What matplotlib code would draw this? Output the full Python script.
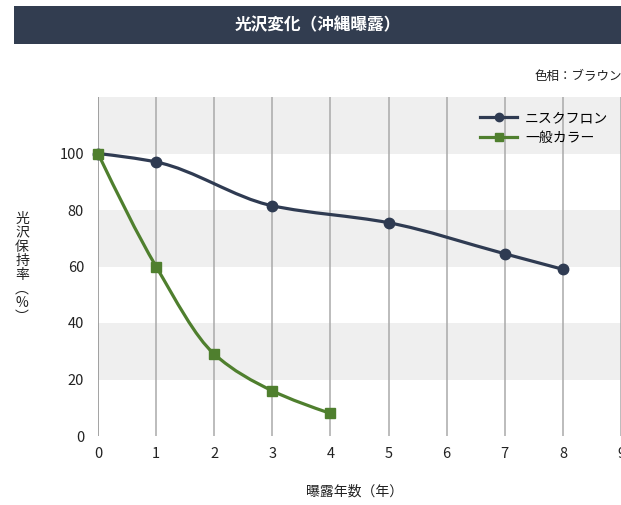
import matplotlib
matplotlib.use("Agg")
import matplotlib.pyplot as plt
from matplotlib.patches import Rectangle, PathPatch
from matplotlib.path import Path
from matplotlib.lines import Line2D
import numpy as np

plt.rcParams['font.family'] = ['Noto Sans CJK JP', 'DejaVu Sans']

title = "光沢変化（沖縄曝露）"
subtitle = "色相：ブラウン"
xlabel = "曝露年数（年）"
ylabel = "光沢保持率（%）"

series1_name = "ニスクフロン"
series1_x = [0, 1, 3, 5, 7, 8]
series1_y = [100, 97, 81.5, 75.5, 64.5, 59]

series2_name = "一般カラー"
series2_x = [0, 1, 2, 3, 4]
series2_y = [100, 60, 29, 16, 8]

xticks = list(range(0, 10))
yticks = [0, 20, 40, 60, 80, 100]

navy = "#2f3b52"
green = "#4f7f2e"

W, H = 621, 505
fig = plt.figure(figsize=(W / 100, H / 100), dpi=100)

# header banner
fig.add_artist(Rectangle((14 / W, 1 - 44 / H), (W - 14) / W, 38 / H,
                         transform=fig.transFigure, facecolor="#323d50",
                         edgecolor="none"))
fig.text(318 / W, 1 - 25 / H, title, color="white", fontsize=12,
         fontweight="bold", ha="center", va="center")
fig.text(622 / W, 1 - 76 / H, subtitle, color="#222222", fontsize=9,
         ha="right", va="center")

ax = fig.add_axes([98 / W, 1 - 436 / H, (W - 98) / W, (436 - 97) / H])
ax.set_xlim(0, 9)
ax.set_ylim(0, 120)
for s in ax.spines.values():
    s.set_visible(False)

# horizontal bands
for y0 in [100, 60, 20]:
    ax.axhspan(y0, y0 + 20, color="#efefef", zorder=0, lw=0)
# vertical grid lines
for xv in xticks:
    ax.axvline(xv, color="#a9a9a9" if xv else "#8a8a8a", lw=1.1, zorder=1)

ax.set_xticks(xticks)
ax.set_yticks(yticks)
ax.tick_params(length=0, labelsize=10.5, colors="#222222")
ax.tick_params(axis="x", pad=8)
ax.tick_params(axis="y", pad=10)
for lab in ax.get_xticklabels() + ax.get_yticklabels():
    lab.set_clip_on(False)


def smooth_path(xs, ys):
    xs = np.asarray(xs, float)
    ys = np.asarray(ys, float)
    n = len(xs)
    d = np.diff(ys) / np.diff(xs)
    m = np.empty(n)
    m[0] = d[0]
    m[-1] = d[-1]
    for i in range(1, n - 1):
        if d[i - 1] * d[i] <= 0:
            m[i] = 0.0
        else:
            w1 = 2 * (xs[i + 1] - xs[i]) + (xs[i] - xs[i - 1])
            w2 = (xs[i + 1] - xs[i]) + 2 * (xs[i] - xs[i - 1])
            m[i] = (w1 + w2) / (w1 / d[i - 1] + w2 / d[i])
    # end slopes: three-point estimate
    m[0] = (3 * d[0] - m[1]) / 2
    m[-1] = (3 * d[-1] - m[-2]) / 2
    verts = [(xs[0], ys[0])]
    codes = [Path.MOVETO]
    for i in range(n - 1):
        h = xs[i + 1] - xs[i]
        verts += [(xs[i] + h / 3, ys[i] + m[i] * h / 3),
                  (xs[i + 1] - h / 3, ys[i + 1] - m[i + 1] * h / 3),
                  (xs[i + 1], ys[i + 1])]
        codes += [Path.CURVE4] * 3
    return Path(verts, codes)


ax.add_patch(PathPatch(smooth_path(series1_x, series1_y), facecolor="none",
                       edgecolor=navy, lw=2.3, zorder=3, capstyle="round"))
ax.plot(series1_x, series1_y, ls="none", marker="o", ms=7.5, color=navy,
        zorder=4, clip_on=False)
ax.add_patch(PathPatch(smooth_path(series2_x, series2_y), facecolor="none",
                       edgecolor=green, lw=2.3, zorder=5, capstyle="round"))
ax.plot(series2_x, series2_y, ls="none", marker="s", ms=7, color=green,
        zorder=6, clip_on=False)

handles = [Line2D([], [], color=navy, lw=2.3, marker="o", ms=6),
           Line2D([], [], color=green, lw=2.3, marker="s", ms=6)]
leg = fig.legend(handles, [series1_name, series2_name],
                 loc="upper left", bbox_to_anchor=(473 / W, 1 - 104 / H),
                 frameon=False, fontsize=10, handlelength=2.7,
                 handletextpad=0.55, labelspacing=0.45, borderpad=0)

fig.text(355 / W, 1 - 492 / H, xlabel, fontsize=10, ha="center", va="center",
         color="#222222")
fig.text(22 / W, 1 - 268 / H, "\n".join(["光", "沢", "保", "持", "率", "︵", "%", "︶"]),
         fontsize=10, ha="center", va="center", linespacing=1.0,
         color="#222222")

fig.savefig("out.png", dpi=100)
